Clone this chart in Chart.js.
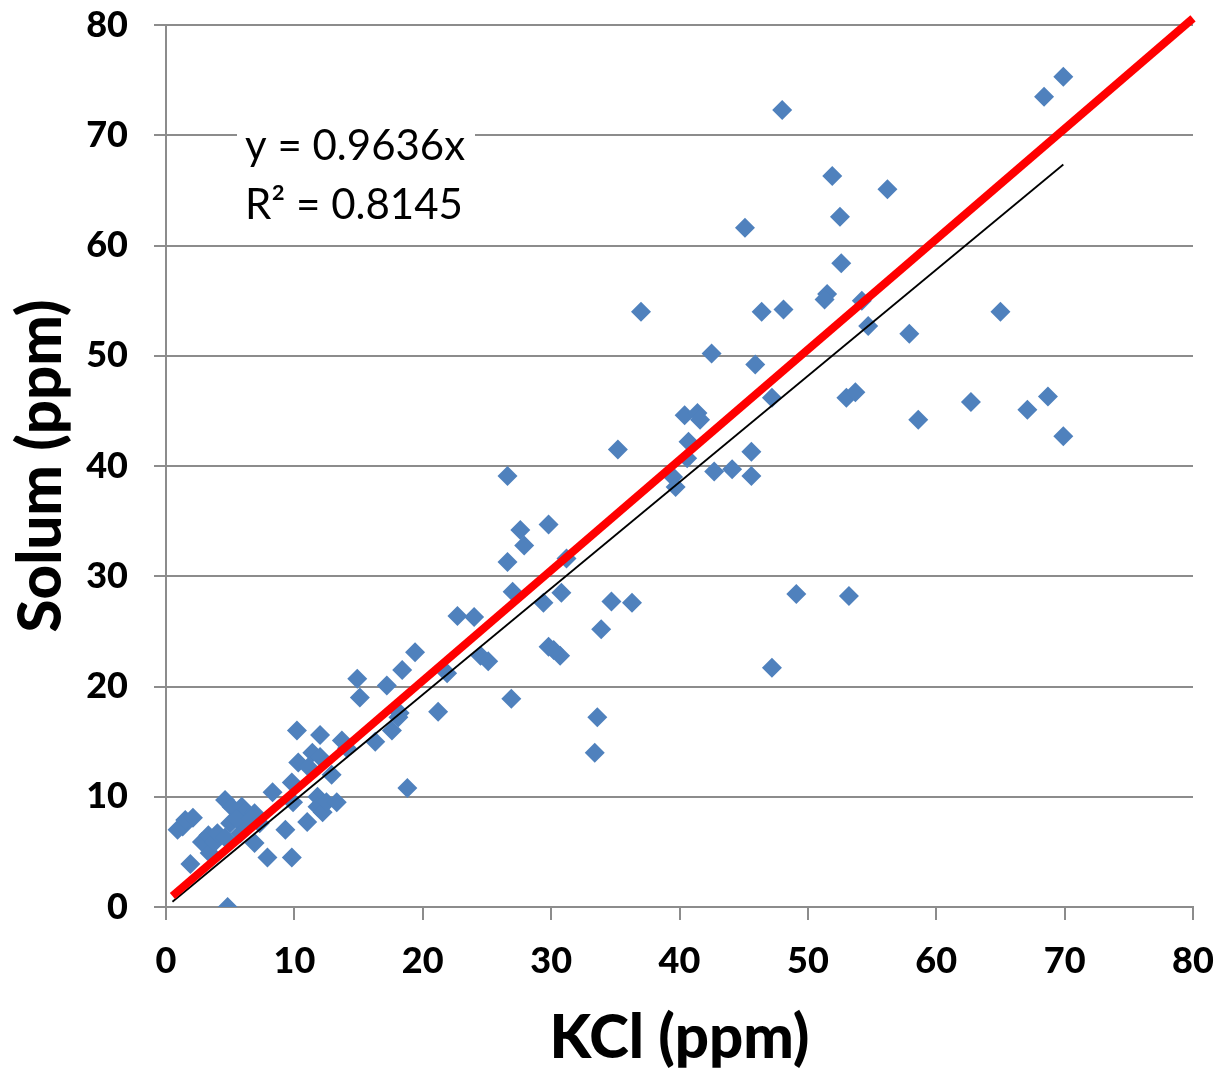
<!DOCTYPE html>
<html>
<head>
<meta charset="utf-8">
<script src="https://cdn.jsdelivr.net/npm/chart.js@4/dist/chart.umd.min.js"></script>
<style>
  html, body { margin: 0; padding: 0; background: #fff; }
  #wrap { width: 1222px; height: 1069px; }
</style>
</head>
<body>
<div id="wrap"><canvas id="ChartKcl" width="1222" height="1069"></canvas></div>
<script>
// KCl (x) vs Solum (y), ppm
const kclValues = [
  0.9, 1.3, 1.5, 2.1, 1.9, 2.8, 3.3, 3.4, 3.8, 4.0, 4.6, 4.6, 5.1, 5.9, 6.2, 6.9,
  5.0, 5.8, 6.3, 7.3, 6.9, 4.8, 7.9, 9.8, 9.3, 11.0, 8.3, 9.9, 9.8, 11.8, 11.8, 12.2,
  12.5, 13.3, 12.9, 10.3, 11.1, 11.4, 10.2, 12.0, 13.7, 14.1, 16.3, 17.6, 18.1, 18.8,
  12.0, 5.5, 6.6,
  69.9, 68.4, 48.0, 51.9, 56.2, 52.5, 45.1, 52.6, 51.5, 51.3, 54.2, 54.7, 37.0, 46.4,
  48.1, 65.0, 57.9, 42.5, 45.9, 47.2, 53.0, 53.7, 68.7, 62.7, 67.1, 40.4, 41.4, 41.6,
  58.6, 69.9, 40.7, 40.6, 45.6, 35.2, 45.6, 42.7, 44.1, 39.5, 39.7, 26.6, 29.8, 27.6,
  27.9, 26.6, 31.2, 27.0, 30.8, 29.4, 34.7, 36.3, 49.1, 53.2, 33.9, 29.8, 30.7, 30.2,
  22.7, 24.0, 19.4, 21.9, 24.5, 25.1, 14.9, 17.2, 18.4, 15.1, 26.9, 47.2, 21.2, 33.6,
  18.2, 33.4
];
const solumValues = [
  7.0, 7.3, 7.9, 8.1, 3.9, 5.9, 6.5, 4.9, 5.9, 6.7, 6.3, 9.7, 9.1, 9.1, 8.6, 8.5,
  7.6, 6.7, 7.3, 7.6, 5.8, 0.0, 4.5, 4.5, 7.0, 7.7, 10.4, 9.5, 11.3, 10.0, 9.1, 8.6,
  9.5, 9.5, 12.0, 13.1, 12.7, 14.0, 16.0, 15.6, 15.1, 14.4, 15.0, 16.0, 17.2, 10.8,
  13.6, 8.0, 8.0,
  75.3, 73.5, 72.3, 66.3, 65.1, 62.6, 61.6, 58.4, 55.6, 55.1, 55.0, 52.7, 54.0, 54.0,
  54.2, 54.0, 52.0, 50.2, 49.2, 46.2, 46.2, 46.7, 46.3, 45.8, 45.1, 44.6, 44.8, 44.2,
  44.2, 42.7, 42.2, 40.7, 41.3, 41.5, 39.1, 39.5, 39.7, 39.0, 38.1, 39.1, 34.7, 34.2,
  32.8, 31.3, 31.6, 28.6, 28.5, 27.6, 27.7, 27.6, 28.4, 28.2, 25.2, 23.6, 22.8, 23.3,
  26.4, 26.3, 23.1, 21.2, 22.8, 22.3, 20.7, 20.1, 21.5, 19.0, 18.9, 21.7, 17.7, 17.2,
  17.6, 14.0
];

// trendline y = 0.9636x (black) and reference line (red)
const trendX = [0.5, 69.9];
const trendY = [0.48, 67.35];
const refX = [0.5, 80];
const refY = [1.0, 80.6];

const xTicks = [0, 10, 20, 30, 40, 50, 60, 70, 80];
const yTicks = [0, 10, 20, 30, 40, 50, 60, 70, 80];

const toPoints = (xs, ys) => xs.map((x, i) => ({ x: x, y: ys[i] }));

const GRID = '#8c8c8c';

// cuadro con la ecuación
const eqPlugin = {
  id: 'eqLabel',
  afterDatasetsDraw(chart) {
    const ctx = chart.ctx;
    ctx.save();
    ctx.fillStyle = '#fff';
    ctx.fillRect(237, 116, 238, 108);
    ctx.fillStyle = '#000';
    ctx.font = '42px Lato';
    ctx.textBaseline = 'middle';
    ctx.textAlign = 'left';
    ctx.fillText('y = 0.9636x', 245, 146);
    ctx.fillText('R\u00B2 = 0.8145', 245, 205);
    ctx.restore();
  }
};

const config = {
  type: 'scatter',
  data: {
    datasets: [
      {
        label: 'ref',
        data: toPoints(refX, refY),
        showLine: true,
        borderColor: '#ff0000',
        borderWidth: 8,
        pointRadius: 0,
        clip: 10,
        order: 0
      },
      {
        label: 'trend',
        data: toPoints(trendX, trendY),
        showLine: true,
        borderColor: '#000000',
        borderWidth: 1.8,
        pointRadius: 0,
        order: 1
      },
      {
        label: 'Solum vs KCl',
        data: toPoints(kclValues, solumValues),
        pointStyle: 'rectRot',
        pointRadius: 10,
        pointBackgroundColor: '#4f81bd',
        pointBorderColor: '#4f81bd',
        pointBorderWidth: 0,
        order: 2
      }
    ]
  },
  options: {
    responsive: false,
    animation: false,
    layout: { padding: { top: 25, right: 29, left: 0, bottom: 0 } },
    plugins: {
      legend: { display: false },
      tooltip: { enabled: false }
    },
    scales: {
      x: {
        type: 'linear',
        min: 0,
        max: 80,
        afterBuildTicks: (s) => { s.ticks = xTicks.map(v => ({ value: v })); },
        afterFit: (s) => { s.height = 162; s.paddingLeft = 0; s.paddingRight = 0; },
        grid: { drawOnChartArea: false, drawTicks: true, tickLength: 13, color: GRID, lineWidth: 2 },
        border: { display: true, color: GRID, width: 2 },
        ticks: { color: '#000', font: { family: 'Lato', size: 36, weight: '900' }, padding: 20, maxRotation: 0 },
        title: { display: true, text: 'KCl (ppm)', color: '#000', font: { family: 'Lato', size: 60, weight: '900', lineHeight: 1.0 }, padding: 0 }
      },
      y: {
        type: 'linear',
        min: 0,
        max: 80,
        afterBuildTicks: (s) => { s.ticks = yTicks.map(v => ({ value: v })); },
        afterFit: (s) => { s.width = 166; s.paddingTop = 0; s.paddingBottom = 0; },
        grid: { drawOnChartArea: true, drawTicks: true, tickLength: 12, color: GRID, lineWidth: 2 },
        border: { display: true, color: GRID, width: 2 },
        ticks: { color: '#000', font: { family: 'Lato', size: 36, weight: '900' }, padding: 26 },
        title: { display: true, text: 'Solum (ppm)', color: '#000', font: { family: 'Lato', size: 60, weight: '900' }, padding: { top: 6, bottom: 0 } }
      }
    }
  },
  plugins: [eqPlugin]
};

const chartKcl = new Chart(document.getElementById('ChartKcl'), config);
</script>
</body>
</html>
